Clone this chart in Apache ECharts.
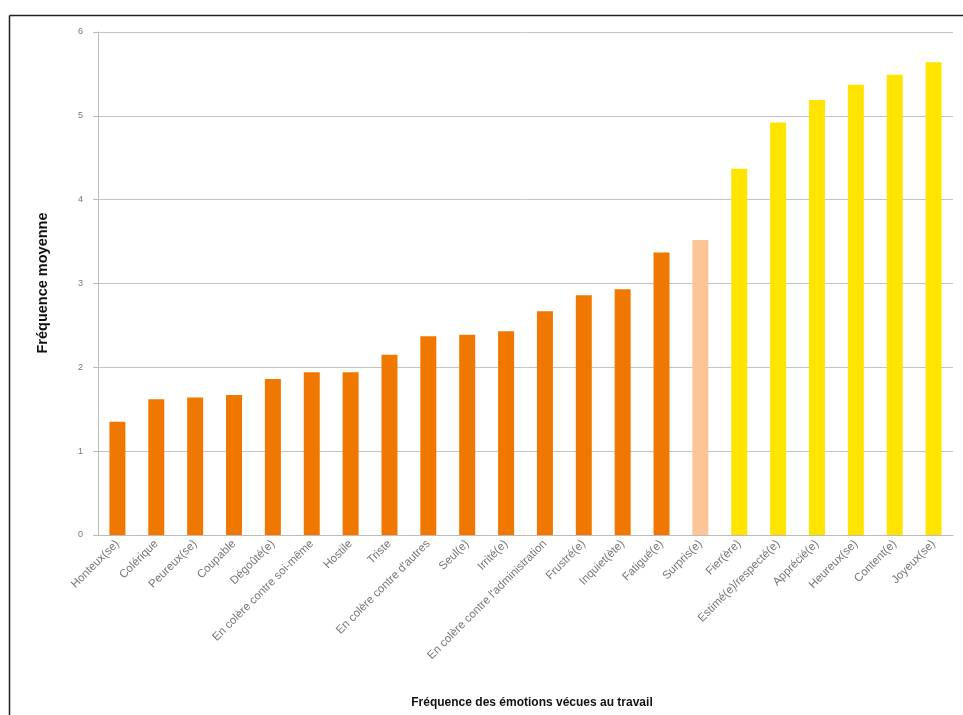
<!DOCTYPE html>
<html><head><meta charset="utf-8">
<script src="https://cdn.jsdelivr.net/npm/echarts@6/dist/echarts.min.js"></script>
<style>html,body{margin:0;padding:0;background:#fff}#c{width:963px;height:715px}</style>
</head><body><div id="c"></div>
<script>
const categories = ["Honteux(se)","Colérique","Peureux(se)","Coupable","Dégoûté(e)","En colère contre soi-même","Hostile","Triste","En colère contre d'autres","Seul(e)","Irrité(e)","En colère contre l'administration","Frustré(e)","Inquiet(ète)","Fatigué(e)","Surpris(e)","Fier(ère)","Estimé(e)/respecté(e)","Apprécié(e)","Heureux(se)","Content(e)","Joyeux(se)"];
const values = [1.35,1.62,1.64,1.67,1.86,1.94,1.94,2.15,2.37,2.39,2.43,2.67,2.86,2.93,3.37,3.52,4.37,4.92,5.19,5.37,5.49,5.64];
const groups = ["neg","neg","neg","neg","neg","neg","neg","neg","neg","neg","neg","neg","neg","neg","neg","neutral","pos","pos","pos","pos","pos","pos"];
const yTicks = [0,1,2,3,4,5,6];
const colors = {neg:"#F07800", neutral:"#FCC597", pos:"#FFE400"};

const chart = echarts.init(document.getElementById('c'));
chart.setOption({
  animation:false,
  backgroundColor:'#fff',
  graphic:[
    {type:'line', shape:{x1:9.5,y1:15.5,x2:963,y2:15.5}, style:{stroke:'#222',lineWidth:1.5}},
    {type:'line', shape:{x1:9.5,y1:15.5,x2:9.5,y2:715}, style:{stroke:'#222',lineWidth:1.5}},
    {type:'text', x:532, y:703, style:{x:0,y:0,text:'Fréquence des émotions vécues au travail',
      fontFamily:'Liberation Sans',fontWeight:'bold',fontSize:12,fill:'#111',textAlign:'center',textVerticalAlign:'middle'}},
    {type:'text', x:43, y:283, rotation:Math.PI/2, style:{x:0,y:0,text:'Fréquence moyenne',
      fontFamily:'Liberation Sans',fontWeight:'bold',fontSize:14.5,fill:'#111',textAlign:'center',textVerticalAlign:'middle'}}
  ],
  grid:{left:98,right:10,top:32,bottom:180},
  xAxis:{
    type:'category', data:categories,
    axisLine:{show:true,lineStyle:{color:'#bbb'}},
    axisTick:{show:false},
    axisLabel:{rotate:45,fontSize:11.5,color:'#777',margin:7,fontFamily:'Liberation Sans',interval:0}
  },
  yAxis:{
    type:'value', min:yTicks[0], max:yTicks[yTicks.length-1], interval:1,
    axisLine:{show:true,lineStyle:{color:'#bbb'}},
    axisTick:{show:true,length:5,lineStyle:{color:'#bbb'}},
    axisLabel:{fontSize:9,color:'#777',margin:15,fontFamily:'Liberation Sans'},
    splitLine:{lineStyle:{color:'#c4c4c4'}}
  },
  series:[{
    type:'bar', barWidth:16,
    data: values.map((v,i)=>({value:v, itemStyle:{color:colors[groups[i]]}}))
  }]
});
</script></body></html>
